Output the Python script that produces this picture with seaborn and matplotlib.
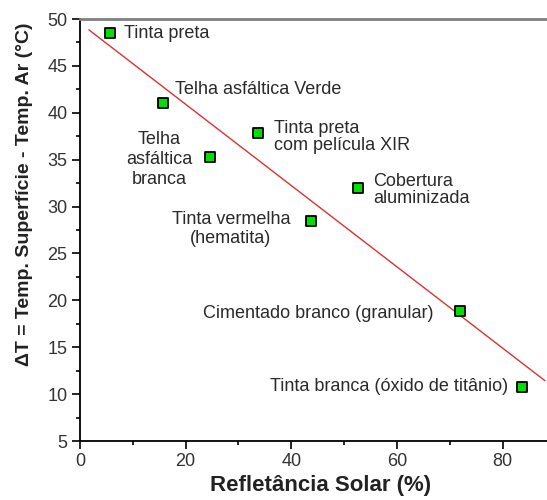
import numpy as np
import pandas as pd
import matplotlib
matplotlib.use("Agg")
import matplotlib.pyplot as plt
from matplotlib.ticker import MultipleLocator
import seaborn as sns

materials = ["Tinta preta", "Telha asfáltica Verde", "Telha\nasfáltica\nbranca",
             "Tinta preta\ncom película XIR", "Cobertura\naluminizada",
             "Tinta vermelha\n(hematita)", "Cimentado branco (granular)",
             "Tinta branca (óxido de titânio)"]
reflectance = [5.7, 15.7, 24.6, 33.7, 52.7, 43.8, 72.0, 83.7]
delta_t = [48.5, 41.0, 35.3, 37.8, 32.0, 28.5, 18.9, 10.8]
x_ticks = [0, 20, 40, 60, 80]
y_ticks = [5, 10, 15, 20, 25, 30, 35, 40, 45, 50]

df = pd.DataFrame({"x": reflectance, "y": delta_t, "label": materials})

sns.set_theme(style="white")
plt.rcParams['font.family'] = ['Liberation Sans', 'DejaVu Sans']

fig = plt.figure(figsize=(5.47, 5.0), dpi=100)
ax = fig.add_axes([0.146, 0.118, 0.854, 0.844])

# linear fit line
slope, intercept = np.polyfit(df["x"], df["y"], 1)
fx = np.array([1.7, 88.0])
fit = pd.DataFrame({"x": fx, "y": slope * fx + intercept})
sns.lineplot(data=fit, x="x", y="y", ax=ax, color="#e03030", lw=1.0)

sns.scatterplot(data=df, x="x", y="y", ax=ax, marker="s", s=50,
                color="#00e000", edgecolor="black", linewidth=1.3, zorder=5)

# label placement (ha, x, y, linespacing)
pos = [("left", 8.3, 48.5, 1.0), ("left", 18.0, 42.5, 1.0), ("center", 15.0, 35.0, 1.25),
       ("left", 36.7, 37.4, 0.95), ("left", 55.5, 31.8, 1.0), ("center", 28.6, 27.6, 1.1),
       ("right", 67.0, 18.6, 1.0), ("right", 81.1, 10.8, 1.0)]
for lab, (ha, tx, ty, ls) in zip(materials, pos):
    ax.text(tx, ty, lab, ha=ha, va="center", fontsize=13, color="#2a2a2a",
            linespacing=ls, multialignment="center" if ha == "center" else "left")

ax.set_xlim(0, 88.4)
ax.set_ylim(5, 50)
ax.set_xticks(x_ticks)
ax.set_yticks(y_ticks)
ax.xaxis.set_minor_locator(MultipleLocator(10))
ax.yaxis.set_minor_locator(MultipleLocator(2.5))
ax.tick_params(which="major", direction="out", length=6, width=1.2, color="black",
               labelsize=13, labelcolor="#333333", pad=3,
               bottom=True, left=True, top=False, right=False)
ax.tick_params(which="minor", direction="out", length=3, width=1.2, color="black",
               bottom=True, left=True, top=False, right=False)
for t in ax.get_xticklabels() + ax.get_yticklabels():
    t.set_family(['Liberation Sans Narrow', 'Liberation Sans', 'DejaVu Sans'])

ax.set_xlabel("Refletância Solar (%)", fontsize=16, fontweight="bold", color="#222222")
ax.xaxis.set_label_coords(321 / 547, 1 - 485 / 500, transform=fig.transFigure)
ax.xaxis.label.set_va("center")
ax.set_ylabel("ΔT = Temp. Superfície - Temp. Ar (°C)", fontsize=14, fontweight="bold",
              color="#222222")
ax.yaxis.set_label_coords(25 / 547, 1 - 194 / 500, transform=fig.transFigure)
ax.yaxis.label.set_va("center")

for s in ["left", "bottom"]:
    ax.spines[s].set_color("black")
    ax.spines[s].set_linewidth(1.3)
ax.spines["top"].set_color("#808080")
ax.spines["top"].set_linewidth(2)
ax.spines["right"].set_visible(False)

fig.savefig("out.png", dpi=100)
